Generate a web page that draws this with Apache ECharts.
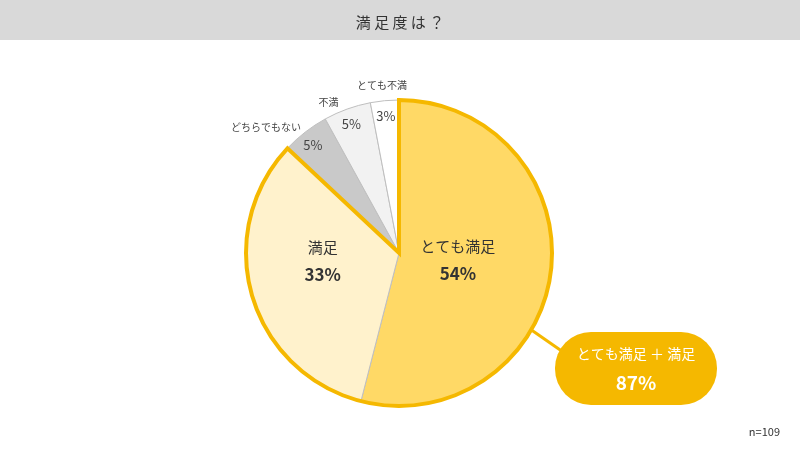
<!DOCTYPE html>
<html>
<head>
<meta charset="utf-8">
<script src="https://cdn.jsdelivr.net/npm/echarts@6/dist/echarts.min.js"></script>
<style>
  html, body { margin: 0; padding: 0; background: #fff; }
  #chart { width: 800px; height: 450px; }
</style>
</head>
<body>
<div id="chart"></div>
<script>
// データ
var categories = ['とても満足', '満足', 'どちらでもない', '不満', 'とても不満'];
var values = [54, 33, 5, 5, 3];
var sliceColors = ['#FFD966', '#FFF2CC', '#C9C9C9', '#F2F2F2', '#FFFFFF'];
var titleText = '満足度は？';
var sampleText = 'n=109';
var topGroupCount = 2; // とても満足 + 満足

var FONT = '"Noto Sans CJK JP", "Noto Sans", sans-serif';
var ORANGE = '#F5B800';
var CENTER = [399, 253];
var R = 153;

var chart = echarts.init(document.getElementById('chart'));

var topSum = values.slice(0, topGroupCount).reduce(function (a, b) { return a + b; }, 0);
var restSum = values.slice(topGroupCount).reduce(function (a, b) { return a + b; }, 0);
var topLabel = categories.slice(0, topGroupCount).join(' ＋ ');

// ラベルの微調整
var labelShift = {
  0: { dx: -20, dy: -3 },
  1: { dx: 0, dy: -14 },
  3: { dx: 3, dy: -5 },
  4: { dx: 28, dy: -10 }
};

// メインの円グラフ
var mainData = categories.map(function (name, i) {
  var item = { name: name, value: values[i], itemStyle: { color: sliceColors[i] } };
  if (i < topGroupCount) {
    item.label = {
      position: 'inside',
      formatter: '{n|{b}}\n{p|{c}%}',
      rich: {
        n: { fontFamily: FONT, fontSize: 15, color: '#333', lineHeight: 27 },
        p: { fontFamily: FONT, fontSize: 17, fontWeight: 'bold', color: '#333', lineHeight: 27 }
      }
    };
  }
  return item;
});

// 小さい項目の%表示用
var ringData = categories.map(function (name, i) {
  return {
    name: name, value: values[i],
    label: { show: i >= topGroupCount }
  };
});

var option = {
  backgroundColor: '#fff',
  animation: false,
  title: {
    text: titleText.split('').join(' '),
    left: 'center',
    top: 10,
    textStyle: { fontFamily: FONT, fontSize: 15, fontWeight: 'normal', color: '#333' }
  },
  graphic: [
    { type: 'rect', z: -1, shape: { x: 0, y: 0, width: 800, height: 40 }, style: { fill: '#D9D9D9' } },
    {
      type: 'text', right: 20, top: 426,
      style: { text: sampleText, fontFamily: FONT, fontSize: 11, fill: '#333' }
    },
    {
      type: 'line', z: 5,
      shape: { x1: 530, y1: 329, x2: 566, y2: 354 },
      style: { stroke: ORANGE, lineWidth: 3 }
    },
    {
      type: 'rect', z: 6,
      shape: { x: 555, y: 332, width: 162, height: 73, r: 36 },
      style: { fill: ORANGE }
    },
    {
      type: 'text', z: 7, x: 636, y: 354,
      style: { text: topLabel, fontFamily: FONT, fontSize: 14, fill: '#fff', align: 'center', verticalAlign: 'middle' }
    },
    {
      type: 'text', z: 7, x: 636, y: 383,
      style: { text: topSum + '%', fontFamily: FONT, fontSize: 19, fontWeight: 'bold', fill: '#fff', align: 'center', verticalAlign: 'middle' }
    }
  ],
  series: [
    {
      type: 'pie',
      center: CENTER,
      radius: [0, R],
      startAngle: 90,
      clockwise: true,
      silent: true,
      itemStyle: { borderColor: '#BFBFBF', borderWidth: 1 },
      label: {
        show: true,
        position: 'outside',
        formatter: '{b}',
        fontFamily: FONT,
        fontSize: 10,
        color: '#444'
      },
      labelLine: { show: false, length: 6, length2: 0 },
      labelLayout: function (p) {
        return labelShift[p.dataIndex] || {};
      },
      data: mainData
    },
    {
      type: 'pie',
      center: CENTER,
      radius: [120, R + 2],
      startAngle: 90,
      clockwise: true,
      silent: true,
      itemStyle: { color: 'rgba(0,0,0,0)', borderWidth: 0 },
      label: {
        position: 'inside',
        formatter: '{c}%',
        fontFamily: FONT,
        fontSize: 13,
        color: '#444'
      },
      labelLine: { show: false },
      labelLayout: { dy: 3 },
      data: ringData
    },
    {
      // とても満足 + 満足 の外枠
      type: 'pie',
      center: CENTER,
      radius: [0, R],
      startAngle: 90,
      clockwise: true,
      silent: true,
      label: { show: false },
      labelLine: { show: false },
      data: [
        { name: topLabel, value: topSum, itemStyle: { color: 'rgba(0,0,0,0)', borderColor: ORANGE, borderWidth: 4, borderJoin: 'miter' } },
        { name: 'その他', value: restSum, itemStyle: { color: 'rgba(0,0,0,0)', borderWidth: 0 } }
      ]
    }
  ]
};

chart.setOption(option);
</script>
</body>
</html>
